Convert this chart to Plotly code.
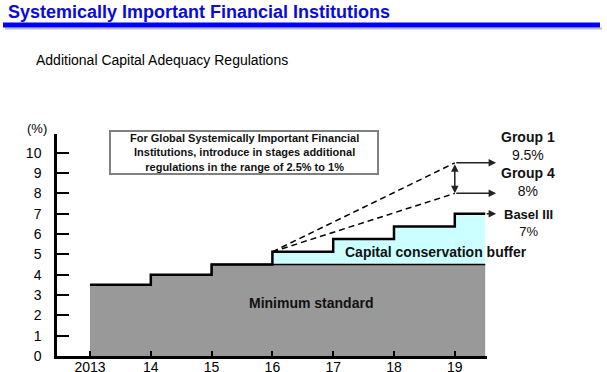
import plotly.graph_objects as go

# ---------------- data ----------------
years = [2013, 2014, 2015, 2016, 2017, 2018, 2019]
year_labels = ["2013", "14", "15", "16", "17", "18", "19"]
minimum_standard = [3.5, 4.0, 4.5, 4.5, 4.5, 4.5, 4.5]
conservation_buffer = [0.0, 0.0, 0.0, 0.625, 1.25, 1.875, 2.5]
group_names = ["Group 1", "Group 4", "Basel III"]
group_levels = [9.5, 8.0, 7.0]
y_ticks = [0, 1, 2, 3, 4, 5, 6, 7, 8, 9, 10]
period_end = 2019.5      # right edge of the shaded periods
arrow_end = 2019.68      # where the right-hand arrows stop

# ---------------- layout geometry (pixels) ----------------
W, H = 607, 372
L, R, T, B = 57, 487, 134, 356
FONT = "Arial, Liberation Sans, sans-serif"


def px_x(x):
    return (x - L) / (R - L)


def px_y(y):
    return (B - y) / (B - T)


total = [m + b for m, b in zip(minimum_standard, conservation_buffer)]
x_full = years + [period_end]
tot_full = total + [total[-1]]
min_full = minimum_standard + [minimum_standard[-1]]
i0 = next(i for i, b in enumerate(conservation_buffer) if b > 0)

fig = go.Figure()

# capital conservation buffer (cyan) – drawn first, gray covers the base
fig.add_trace(go.Scatter(x=x_full, y=tot_full, mode="lines", line_shape="hv",
                         fill="tozeroy", fillcolor="#CCFFFF",
                         line=dict(width=0), hoverinfo="skip"))
# minimum standard (gray)
fig.add_trace(go.Scatter(x=x_full, y=min_full, mode="lines", line_shape="hv",
                         fill="tozeroy", fillcolor="#999999",
                         line=dict(color="black", width=1.5), hoverinfo="skip"))
# total requirement step line
fig.add_trace(go.Scatter(x=x_full, y=tot_full, mode="lines", line_shape="hv",
                         line=dict(color="black", width=2.5), hoverinfo="skip"))
# dashed lines to G-SIFI levels
for lvl in group_levels[:2]:
    fig.add_trace(go.Scatter(x=[years[i0], years[-1]], y=[total[i0], lvl],
                             mode="lines",
                             line=dict(color="black", width=1.5, dash="6px,4px"),
                             hoverinfo="skip"))

annotations = []
# right-pointing arrows
for name, lvl in zip(group_names, group_levels):
    start = years[-1] if name != "Basel III" else period_end
    annotations.append(dict(x=arrow_end, y=lvl, xref="x", yref="y",
                            ax=start, ay=lvl, axref="x", ayref="y",
                            showarrow=True, arrowhead=2, arrowsize=1,
                            arrowwidth=1.5, arrowcolor="#222", standoff=0,
                            text=""))
# vertical double arrow between Group 1 and Group 4
annotations.append(dict(x=years[-1], y=group_levels[1], xref="x", yref="y",
                        ax=years[-1], ay=group_levels[0], axref="x", ayref="y",
                        showarrow=True, arrowhead=2, startarrowhead=2,
                        arrowside="end+start", arrowsize=1, arrowwidth=1.5,
                        arrowcolor="#222", standoff=0, startstandoff=0, text=""))

# group labels
lab_font = dict(family=FONT, size=14, color="#111")
annotations.append(dict(x=px_x(528), y=group_levels[0], xref="paper", yref="y",
                        text=f"<b>{group_names[0]}</b><br>{group_levels[0]}%",
                        showarrow=False, xanchor="center", yanchor="bottom",
                        yshift=-2, font=lab_font))
annotations.append(dict(x=px_x(528), y=group_levels[1], xref="paper", yref="y",
                        text=f"<b>{group_names[1]}</b><br>{group_levels[1]:g}%",
                        showarrow=False, xanchor="center", yanchor="bottom",
                        yshift=-8, font=lab_font))
annotations.append(dict(x=px_x(528), y=group_levels[2], xref="paper", yref="y",
                        text=f"<b>{group_names[2]}</b><br>{group_levels[2]:g}%",
                        showarrow=False, xanchor="center", yanchor="top",
                        yshift=9, font=dict(family=FONT, size=13, color="#111")))

# area labels
annotations.append(dict(x=2018.69, y=5.1, xref="x", yref="y",
                        text="<b>Capital conservation buffer</b>",
                        showarrow=False, font=dict(family=FONT, size=14, color="#111")))
annotations.append(dict(x=2016.63, y=2.6, xref="x", yref="y",
                        text="<b>Minimum standard</b>",
                        showarrow=False, font=dict(family=FONT, size=14, color="#111")))

# boxed note
annotations.append(dict(x=px_x(244), y=px_y(152.5), xref="paper", yref="paper",
                        text="<b>For Global Systemically Important Financial<br>"
                             "Institutions, introduce in stages additional<br>"
                             "regulations in the range of 2.5% to 1%</b>",
                        showarrow=False, xanchor="center", yanchor="middle",
                        font=dict(family=FONT, size=11, color="#111")))

# (%) unit
annotations.append(dict(x=px_x(37), y=px_y(128), xref="paper", yref="paper",
                        text="(%)", showarrow=False, xanchor="center",
                        yanchor="middle", font=dict(family=FONT, size=13, color="black")))
# title & subtitle
annotations.append(dict(x=px_x(6), y=px_y(12), xref="paper", yref="paper",
                        text="<b>Systemically Important Financial Institutions</b>",
                        showarrow=False, xanchor="left", yanchor="middle",
                        font=dict(family=FONT, size=18, color="#0A0ADC")))
annotations.append(dict(x=px_x(34), y=px_y(60.5), xref="paper", yref="paper",
                        text="Additional Capital Adequacy Regulations",
                        showarrow=False, xanchor="left", yanchor="middle",
                        font=dict(family=FONT, size=14, color="black")))

shapes = [
    # blue title bar + shadow
    dict(type="rect", xref="paper", yref="paper",
         x0=px_x(5), x1=px_x(602), y0=px_y(27.5), y1=px_y(29.5),
         fillcolor="#BBBBBB", line=dict(width=0), layer="above"),
    dict(type="rect", xref="paper", yref="paper",
         x0=px_x(3), x1=px_x(600), y0=px_y(22.5), y1=px_y(27.5),
         fillcolor="#0000FF", line=dict(width=0), layer="above"),
    # note box
    dict(type="rect", xref="paper", yref="paper",
         x0=px_x(110), x1=px_x(378), y0=px_y(131), y1=px_y(174),
         fillcolor="white", line=dict(color="#808080", width=2), layer="above"),
]

unit = (B - 152.7) / 10.0
y_top = (B - T) / unit
px_per_year = 60.8
x_left = years[0] - (90 - L) / px_per_year
x_right = x_left + (R - L) / px_per_year

fig.update_layout(
    width=W, height=H, autosize=False,
    margin=dict(l=L, r=W - R, t=T, b=H - B, pad=0, autoexpand=False),
    paper_bgcolor="white", plot_bgcolor="white",
    showlegend=False,
    annotations=annotations,
    shapes=shapes,
    xaxis=dict(range=[x_left, x_right], tickvals=years, ticktext=year_labels,
               ticks="inside", ticklen=5, tickwidth=1.5, tickcolor="black",
               showline=True, linecolor="black", linewidth=2.5,
               showgrid=False, zeroline=False, automargin=False,
               ticklabelstandoff=-4,
               tickfont=dict(family=FONT, size=14, color="black")),
    yaxis=dict(range=[0, y_top], tickvals=y_ticks,
               ticktext=[str(v) for v in y_ticks],
               ticks="inside", ticklen=12, tickwidth=1.5, tickcolor="black",
               showline=True, linecolor="black", linewidth=2.5,
               showgrid=False, zeroline=False, automargin=False,
               ticklabelstandoff=10,
               tickfont=dict(family=FONT, size=14, color="black")),
)

# remove the page's default body margin so the 607x372 figure fills the window
post_js = ("document.body.style.margin='0';document.body.style.overflow='hidden';")

fig.write_html("out.html", post_script=post_js,
               config={"responsive": False, "displayModeBar": False})
